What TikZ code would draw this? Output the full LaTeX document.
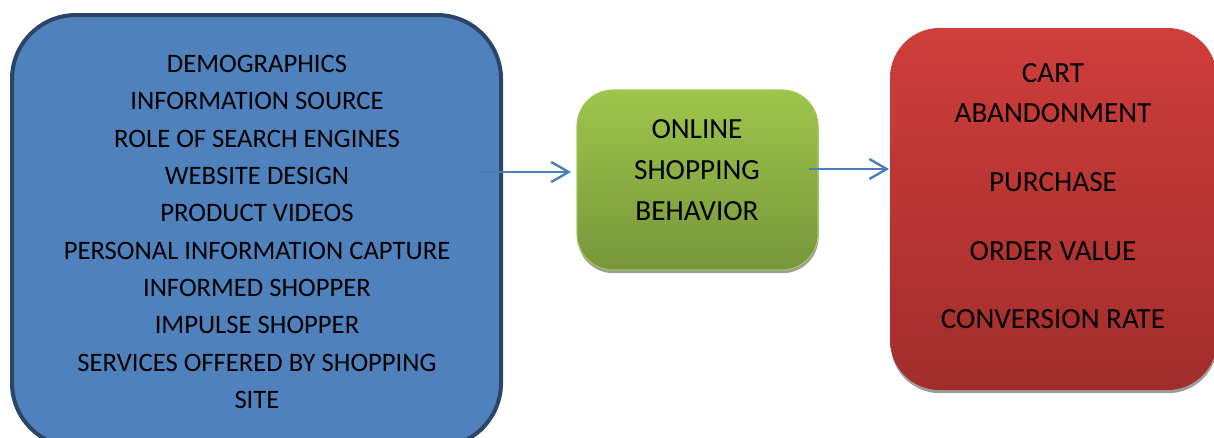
\documentclass[tikz,border=0pt]{standalone}
\usepackage{fontspec}
\setmainfont{Carlito}
\usetikzlibrary{arrows.meta,shadows}

\definecolor{factorfill}{HTML}{4F81BD}
\definecolor{factorline}{HTML}{2A4568}
\definecolor{behavtop}{HTML}{9DC64B}
\definecolor{behavbot}{HTML}{76963A}
\definecolor{behavline}{HTML}{A3C75E}
\definecolor{outtop}{HTML}{CF3E3B}
\definecolor{outbot}{HTML}{A12D2B}
\definecolor{flowblue}{HTML}{4A7EBB}
\definecolor{boxshadow}{HTML}{9C9C9C}

\tikzset{
  panel/.style={inner sep=0pt, outer sep=0pt},
  factorbox/.style={panel, draw=factorline, line width=3pt, fill=factorfill,
    rounded corners=48pt},
  behavbox/.style={panel, draw=behavline, line width=0.8pt,
    top color=behavtop, bottom color=behavbot, rounded corners=27pt,
    drop shadow={shadow xshift=0.4pt, shadow yshift=-2.4pt, fill=boxshadow, opacity=1}},
  outbox/.style={panel, top color=outtop, bottom color=outbot, rounded corners=37pt,
    drop shadow={shadow xshift=0.4pt, shadow yshift=-2.4pt, fill=boxshadow, opacity=1}},
  factortext/.style={align=center, inner sep=0pt, font=\fontsize{20}{28}\selectfont},
  bigtext/.style={align=center, inner sep=0pt, font=\fontsize{21.9}{30.5}\selectfont},
  flow/.style={draw=flowblue, line width=1.8pt,
    -{Straight Barb[length=13pt, width=15pt, line width=1.8pt]}}
}

\begin{document}
\begin{tikzpicture}[x=0.75pt, y=-0.75pt]
  \useasboundingbox (0,0) rectangle (1214,437);

  % input factors
  \node[factorbox, minimum width=366.75pt, minimum height=324pt] (factors) at (256.5,231) {};
  \node[factortext] (factorlist) at (257,232) {DEMOGRAPHICS\\
    INFORMATION SOURCE\\
    ROLE OF SEARCH ENGINES\\
    WEBSITE DESIGN\\
    PRODUCT VIDEOS\\
    PERSONAL INFORMATION CAPTURE\\
    INFORMED SHOPPER\\
    IMPULSE SHOPPER\\
    SERVICES OFFERED BY SHOPPING\\
    SITE};

  % central construct
  \node[behavbox, minimum width=180.75pt, minimum height=135pt] (behavior) at (697.5,180) {};
  \node[bigtext] (behaviortext) at (697,170) {ONLINE\\ SHOPPING\\ BEHAVIOR};

  % outcomes
  \node[outbox, minimum width=245pt, minimum height=271.5pt] (outcomes) at (1053.5,209) {};
  \node[bigtext] (outcometext) at (1053,196) {CART\\ ABANDONMENT\\[21pt]
    PURCHASE\\[21pt] ORDER VALUE\\[21pt] CONVERSION RATE};

  % connectors
  \coordinate (flowA) at (477,172);
  \coordinate (flowB) at (809,169);
  \draw[flow, shorten >=4.5pt] (flowA) -- (flowA -| behavior.west);
  \draw[flow, shorten >=0.8pt] (flowB) -- (flowB -| outcomes.west);
\end{tikzpicture}
\end{document}
